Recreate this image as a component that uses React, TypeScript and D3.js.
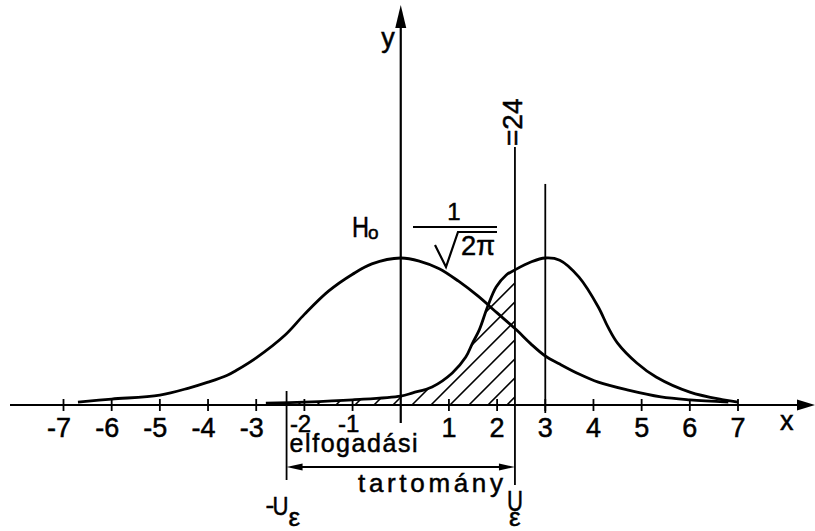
import React from "react";
import * as d3 from "d3";

const W = 815;
const H = 531;

// tick labels on the x axis (0 is left unlabeled, the y axis passes there)
const xTicks = [-7, -6, -5, -4, -3, -2, -1, 1, 2, 3, 4, 5, 6, 7];
// labels squeezed between the axis and the interval caption
const smallTicks = [-2, -1];

// H0 density curve, sampled points (x, density)
const h0X = [-6.7, -6, -5, -4.4, -4, -3.6, -3.4, -3, -2.4, -2, -1.5, -1, -0.6, 0, 0.4, 0.8, 1.2, 1.6, 2, 2.4, 2.7, 3, 3.3, 3.7, 4.1, 4.7, 5.4, 6, 6.8];
const h0Y = [0.008, 0.016, 0.027, 0.046, 0.062, 0.081, 0.095, 0.128, 0.19, 0.246, 0.309, 0.355, 0.383, 0.399, 0.39, 0.37, 0.336, 0.296, 0.25, 0.204, 0.166, 0.133, 0.111, 0.084, 0.062, 0.041, 0.022, 0.014, 0.008];

// alternative density curve centred at 3
const h1X = [-2.8, -2, -1, 0, 0.25, 0.65, 1.07, 1.35, 1.49, 1.63, 1.8, 1.98, 2.19, 2.36, 2.7, 3, 3.3, 3.7, 4.1, 4.3, 4.5, 4.9, 5.3, 6, 6.7, 7.0];
const h1Y = [0.005, 0.008, 0.014, 0.024, 0.033, 0.049, 0.087, 0.13, 0.168, 0.204, 0.266, 0.32, 0.353, 0.366, 0.388, 0.399, 0.393, 0.347, 0.266, 0.212, 0.168, 0.114, 0.076, 0.035, 0.014, 0.008];

// critical value and the mean of the alternative
const U_EPS = 2.37;
const MEAN_1 = 3;
const PEAK = 0.399; // 1/sqrt(2*pi)

const FONT = "'Liberation Sans', Arial, sans-serif";

export default function App() {
  const x = d3.scaleLinear().domain([-7, 7]).range([63.5, 738]);
  const y = d3.scaleLinear().domain([0, PEAK]).range([405, 258]);
  const axisY = y(0);
  const x0 = x(0);

  const h0 = h0X.map((v, i) => [v, h0Y[i]] as [number, number]);
  const h1 = h1X.map((v, i) => [v, h1Y[i]] as [number, number]);

  const curve = d3.curveCatmullRom.alpha(0.5);
  const line = d3
    .line<[number, number]>()
    .x((d) => x(d[0]))
    .y((d) => y(d[1]))
    .curve(curve);

  const area = d3
    .area<[number, number]>()
    .x((d) => x(d[0]))
    .y0(axisY)
    .y1((d) => y(d[1]))
    .curve(curve);

  const uR = x(U_EPS);
  const uL = x(-U_EPS);

  // diagonal hatching under the alternative curve, left of the critical value
  const gap = 19;
  const hatch = d3.range(0, 16).map((k) => uR - 8 - gap * k);

  const arrowY = 467;
  const ink = { fill: "#000", stroke: "#000", strokeWidth: 0.5 };

  return (
    <svg
      width={W}
      height={H}
      viewBox={`0 0 ${W} ${H}`}
      style={{ position: "absolute", left: 0, top: 0, background: "#fff" }}
      fontFamily={FONT}
    >
      <defs>
        <clipPath id="under-h1">
          <path d={area(h1) || ""} />
        </clipPath>
        <clipPath id="accept-band">
          <rect x={x(-3)} y={0} width={uR - x(-3)} height={axisY} />
        </clipPath>
      </defs>
      <rect width={W} height={H} fill="#fff" />

      {/* hatched area */}
      <g clipPath="url(#accept-band)">
        <g clipPath="url(#under-h1)">
          {hatch.map((hx, i) => (
            <line key={i} x1={hx} y1={axisY} x2={hx + 220} y2={axisY - 220} stroke="#000" strokeWidth={1.6} />
          ))}
        </g>
      </g>

      {/* x axis */}
      <line x1={10} y1={axisY} x2={800} y2={axisY} stroke="#000" strokeWidth={2.2} />
      <polygon points={`815,${axisY} 797,${axisY - 5.5} 797,${axisY + 5.5}`} fill="#000" />
      {xTicks.map((t) => (
        <line key={"t" + t} x1={x(t)} y1={axisY - 6} x2={x(t)} y2={axisY + 6} stroke="#000" strokeWidth={1.8} />
      ))}
      {xTicks.map((t) => {
        const small = smallTicks.includes(t);
        const fs = small ? 24 : 27;
        const by = small ? 432 : 437;
        return (
          <g key={"l" + t} fontSize={fs} {...ink}>
            <text x={x(t)} y={by} textAnchor="middle">{String(Math.abs(t))}</text>
            {t < 0 && (
              <text x={x(t) - (small ? 6.5 : 7.5)} y={by} textAnchor="end">-</text>
            )}
          </g>
        );
      })}
      <text x={780} y={430} fontSize={27} {...ink}>x</text>

      {/* y axis */}
      <line x1={x0} y1={423} x2={x0} y2={24} stroke="#000" strokeWidth={2.2} />
      <polygon points={`${x0},5 ${x0 - 5.5},28 ${x0 + 5.5},28`} fill="#000" />
      <text x={388} y={47} fontSize={27} textAnchor="middle" {...ink}>y</text>

      {/* density curves */}
      <path d={line(h0) || ""} fill="none" stroke="#000" strokeWidth={2.8} strokeLinejoin="round" />
      <path d={line(h1) || ""} fill="none" stroke="#000" strokeWidth={2.8} strokeLinejoin="round" />

      {/* vertical markers */}
      <line x1={x(MEAN_1)} y1={y(0.6)} x2={x(MEAN_1)} y2={axisY + 8} stroke="#000" strokeWidth={1.8} />
      <line x1={uR} y1={y(0.7)} x2={uR} y2={485} stroke="#000" strokeWidth={1.8} />
      <line x1={uL} y1={axisY - 14} x2={uL} y2={480} stroke="#000" strokeWidth={1.8} />
      <text transform={`translate(${uR + 7},146) rotate(-90)`} fontSize={28} {...ink}>=24</text>

      {/* acceptance interval arrow */}
      <line x1={uL + 10} y1={arrowY} x2={uR - 10} y2={arrowY} stroke="#000" strokeWidth={1.8} />
      <polygon points={`${uL},${arrowY} ${uL + 16},${arrowY - 3.5} ${uL + 16},${arrowY + 3.5}`} fill="#000" />
      <polygon points={`${uR},${arrowY} ${uR - 16},${arrowY - 3.5} ${uR - 16},${arrowY + 3.5}`} fill="#000" />
      <text x={uL + 3} y={452} fontSize={25} textLength={128} lengthAdjust="spacing" {...ink}>elfogadási</text>
      <text x={358} y={492} fontSize={26} textLength={145} lengthAdjust="spacing" {...ink}>tartomány</text>

      {/* critical value labels */}
      <text x={uL - 21} y={514} fontSize={26} {...ink}>-</text>
      <text x={uL - 14} y={515} fontSize={26} textLength={16} lengthAdjust="spacingAndGlyphs" {...ink}>U</text>
      <text x={uL + 2} y={526} fontSize={26} {...ink}>ε</text>
      <text x={uR - 8} y={511} fontSize={30} textLength={16} lengthAdjust="spacingAndGlyphs" {...ink}>U</text>
      <text x={uR - 6} y={526} fontSize={26} {...ink}>ε</text>

      {/* H0 label and peak height */}
      <text x={352} y={237} fontSize={30} textLength={17} lengthAdjust="spacingAndGlyphs" {...ink}>H</text>
      <text x={368} y={239} fontSize={19} {...ink}>o</text>
      <text x={454} y={220} fontSize={24} textAnchor="middle" {...ink}>1</text>
      <line x1={413} y1={227} x2={497} y2={227} stroke="#000" strokeWidth={2.2} />
      <polyline points="435,245 446,267 458,232 497,232" fill="none" stroke="#000" strokeWidth={2.2} />
      <text x={461} y={255} fontSize={27} textLength={34} lengthAdjust="spacingAndGlyphs" {...ink}>2π</text>
    </svg>
  );
}
